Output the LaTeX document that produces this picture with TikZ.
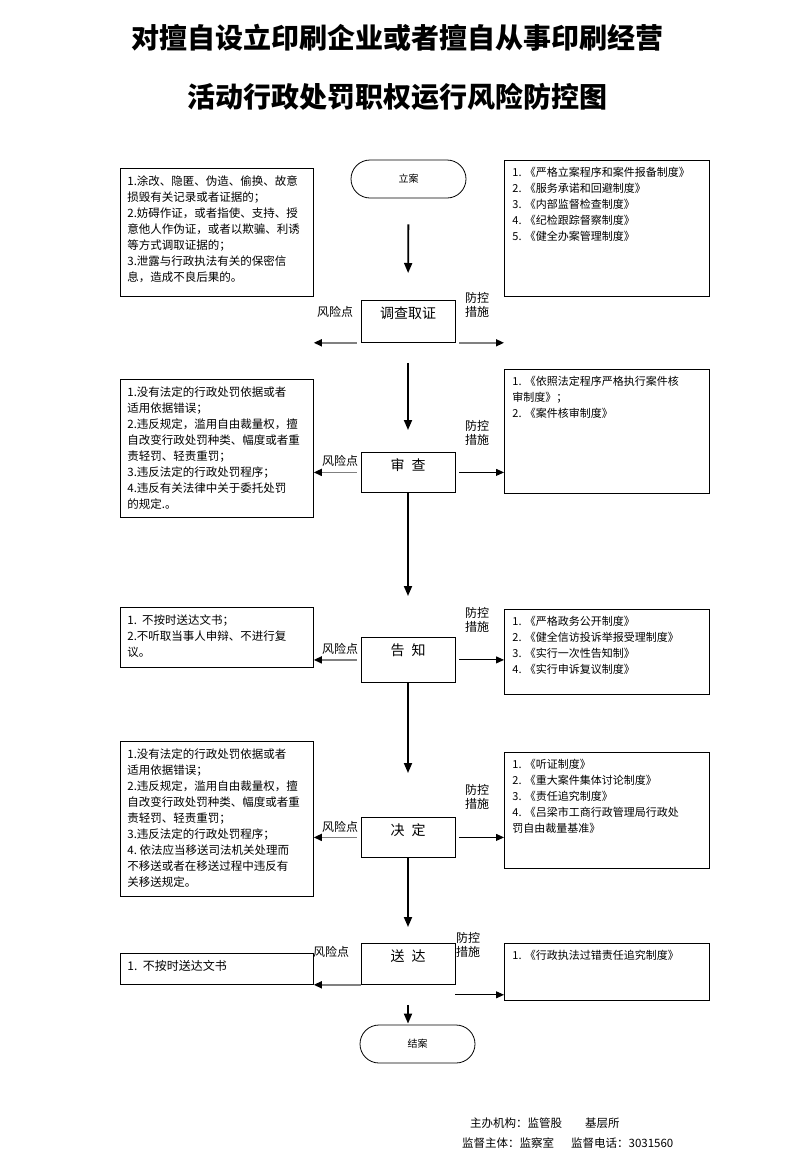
\documentclass[tikz,border=0pt]{standalone}
\usepackage{fontspec}
\newfontfamily\cjk{Noto Sans CJK SC}
\usetikzlibrary{arrows.meta,positioning}
\tikzstyle{stage}=[
	rectangle,
	draw,
	line width=0.8pt,
	anchor=north,
	minimum width=94pt,
	text height=15pt,
	text depth=21pt,
	inner ysep=3pt,
	font=\cjk\fontsize{14}{16}\selectfont
]
\tikzstyle{terminal}=[
	rectangle,
	draw,
	line width=0.8pt,
	rounded corners=19pt,
	minimum width=115pt,
	minimum height=38pt,
	font=\cjk\fontsize{10}{12}\selectfont
]
\tikzstyle{riskbox}=[
	rectangle,
	draw,
	line width=0.8pt,
	anchor=north west,
	inner xsep=7pt,
	inner ysep=7pt,
	font=\cjk\fontsize{11.5}{16}\selectfont
]
\tikzstyle{guardbox}=[
	rectangle,
	draw,
	line width=0.8pt,
	anchor=north west,
	inner xsep=8pt,
	inner ysep=7pt,
	font=\cjk\fontsize{11}{16}\selectfont
]
\tikzstyle{tag}=[
	align=center,
	inner sep=0pt,
	font=\cjk\fontsize{12}{14}\selectfont
]
\tikzstyle{note}=[
	anchor=west,
	inner sep=0pt,
	font=\cjk\fontsize{11.5}{14}\selectfont
]
\tikzstyle{flow}=[
	-{Triangle[length=10pt,width=8pt]},
	line width=1.8pt
]
\tikzstyle{riskarrow}=[
	-{Triangle[length=8pt,width=7pt,color=black]},
	draw=gray,
	line width=1.5pt
]
\tikzstyle{guardarrow}=[
	-{Triangle[length=8pt,width=7pt]},
	line width=0.9pt
]

\begin{document}
\begin{tikzpicture}[x=1pt,y=-1pt]
\useasboundingbox[fill=white] (0,0) rectangle (793,1170);
\node[font=\cjk\bfseries\fontsize{28}{30}\selectfont] (title1) at (397,38) {对擅自设立印刷企业或者擅自从事印刷经营};
\node[font=\cjk\bfseries\fontsize{28}{30}\selectfont] (title2) at (397,97) {活动行政处罚职权运行风险防控图};

\node[terminal] (start) at (408.5,179) {立案};
\node[stage] (survey) at (408,300) {调查取证};
\node[stage, text depth=19pt] (review) at (408,452) {审\hspace{7pt}查};
\node[stage, text depth=24pt] (notice) at (408,637) {告\hspace{7pt}知};
\node[stage, text depth=19pt] (decide) at (408,817) {决\hspace{7pt}定};
\node[stage, text depth=20pt] (deliver) at (408,943) {送\hspace{7pt}达};
\node[terminal] (finish) at (417.5,1044) {结案};

\node[riskbox] (risk1) at (120,168) {\parbox[t][114pt][t]{179pt}{\raggedright
1.涂改、隐匿、伪造、偷换、故意\\
损毁有关记录或者证据的；\\
2.妨碍作证，或者指使、支持、授\\
意他人作伪证，或者以欺骗、利诱\\
等方式调取证据的；\\
3.泄露与行政执法有关的保密信\\
息，造成不良后果的。}};
\node[riskbox] (risk2) at (120,379) {\parbox[t][124pt][t]{179pt}{\raggedright
1.没有法定的行政处罚依据或者\\
适用依据错误；\\
2.违反规定，滥用自由裁量权，擅\\
自改变行政处罚种类、幅度或者重\\
责轻罚、轻责重罚；\\
3.违反法定的行政处罚程序；\\
4.违反有关法律中关于委托处罚\\
的规定.。}};
\node[riskbox] (risk3) at (120,607) {\parbox[t][46pt][t]{179pt}{\raggedright
1.\ \ 不按时送达文书；\\
2.不听取当事人申辩、不进行复\\
议。}};
\node[riskbox] (risk4) at (120,741) {\parbox[t][141pt][t]{179pt}{\raggedright
1.没有法定的行政处罚依据或者\\
适用依据错误；\\
2.违反规定，滥用自由裁量权，擅\\
自改变行政处罚种类、幅度或者重\\
责轻罚、轻责重罚；\\
3.违反法定的行政处罚程序；\\
4.\ 依法应当移送司法机关处理而\\
不移送或者在移送过程中违反有\\
关移送规定。}};
\node[riskbox, font=\cjk\fontsize{12}{16}\selectfont] (risk5) at (120,953) {\parbox[t][17pt][t]{179pt}{\raggedright
1.\ \ 不按时送达文书}};

\node[guardbox] (guard1) at (504,160) {\parbox[t][122pt][t]{189pt}{\raggedright
1. 《严格立案程序和案件报备制度》\\
2. 《服务承诺和回避制度》\\
3. 《内部监督检查制度》\\
4. 《纪检跟踪督察制度》\\
5. 《健全办案管理制度》}};
\node[guardbox] (guard2) at (504,369) {\parbox[t][110pt][t]{189pt}{\raggedright
1. 《依照法定程序严格执行案件核\\
审制度》；\\
2. 《案件核审制度》}};
\node[guardbox] (guard3) at (504,609) {\parbox[t][71pt][t]{189pt}{\raggedright
1. 《严格政务公开制度》\\
2. 《健全信访投诉举报受理制度》\\
3. 《实行一次性告知制》\\
4. 《实行申诉复议制度》}};
\node[guardbox] (guard4) at (504,752) {\parbox[t][102pt][t]{189pt}{\raggedright
1. 《听证制度》\\
2. 《重大案件集体讨论制度》\\
3. 《责任追究制度》\\
4. 《吕梁市工商行政管理局行政处\\
罚自由裁量基准》}};
\node[guardbox] (guard5) at (504,943) {\parbox[t][43pt][t]{189pt}{\raggedright
1. 《行政执法过错责任追究制度》}};

\node[tag] (risktag1) at (335,312) {风险点};
\node[tag] (guardtag1) at (477,305) {防控\\措施};
\node[tag] (risktag2) at (340,461) {风险点};
\node[tag] (guardtag2) at (477,433) {防控\\措施};
\node[tag] (risktag3) at (340,649) {风险点};
\node[tag] (guardtag3) at (477,620) {防控\\措施};
\node[tag] (risktag4) at (340,827) {风险点};
\node[tag] (guardtag4) at (477,797) {防控\\措施};
\node[tag] (risktag5) at (331,952) {风险点};
\node[tag] (guardtag5) at (468,945) {防控\\措施};

\draw[flow, shorten <=26pt, shorten >=27pt] (start.south) -- (survey.north);
\draw[flow, shorten <=20pt, shorten >=22pt] (survey.south) -- (review.north);
\draw[flow, shorten >=41pt] (review.south) -- (notice.north);
\draw[flow, shorten >=44pt] (notice.south) -- (decide.north);
\draw[flow, shorten >=16pt] (decide.south) -- (deliver.north);
\draw[flow, shorten <=20pt, shorten >=1pt] (deliver.south) -- (deliver.south |- finish.north);

\draw[riskarrow, shorten <=4pt] (survey.south west) -- (survey.south west -| risk1.east);
\draw[riskarrow, shorten <=4pt] (survey.south east) -- (survey.south east -| guard1.west);
\draw[riskarrow, shorten <=4pt] (review.west) -- (review.west -| risk2.east);
\draw[guardarrow, shorten <=4pt] (review.east) -- (review.east -| guard2.west);
\draw[riskarrow, shorten <=4pt] (notice.west) -- (notice.west -| risk3.east);
\draw[guardarrow, shorten <=4pt] (notice.east) -- (notice.east -| guard3.west);
\draw[riskarrow, shorten <=4pt] (decide.west) -- (decide.west -| risk4.east);
\draw[guardarrow, shorten <=4pt] (decide.east) -- (decide.east -| guard4.west);
\draw[riskarrow] (deliver.south west) -- (deliver.south west -| risk5.east);
\draw[guardarrow] ([yshift=-10pt]deliver.south east) -- ([yshift=-10pt]deliver.south east -| guard5.west);

\node[note] (sponsor) at (470,1123) {主办机构：监管股\hspace{23pt}基层所};
\node[note] (supervisor) at (462,1143) {监督主体：监察室\hspace{17pt}监督电话：3031560};
\end{tikzpicture}
\end{document}
